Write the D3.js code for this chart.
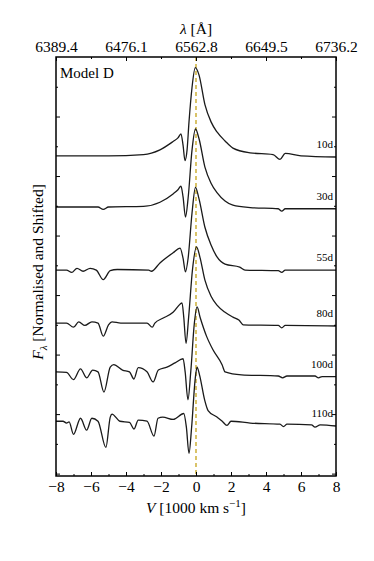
<!DOCTYPE html>
<html>
<head>
<meta charset="utf-8">
<script src="https://cdn.jsdelivr.net/npm/d3@7"></script>
<style>
  body { margin: 0; background: #fff; }
  svg text { font-family: "Liberation Serif", "DejaVu Serif", serif; fill: #000; }
</style>
</head>
<body>
<div id="chart"></div>
<script>
// epochs, their vertical shifts and spectra ([velocity in 1000 km/s, flux above shift])
const epochs = ['10d', '30d', '55d', '80d', '100d', '110d'];
const shifts = [5.34, 4.48, 3.42, 2.53, 1.71, 0.88];

const spec10 = [[-8, 0], [-5, 0], [-3, 0.02], [-2.06, 0.1], [-1.31, 0.24], [-1.03, 0.3], [-0.86, 0.37],
  [-0.74, 0.18], [-0.63, -0.08], [-0.51, 0.1], [-0.4, 0.57], [-0.23, 1.14], [-0.04, 1.48], [0.17, 1.36],
  [0.51, 0.86], [0.86, 0.57], [1.2, 0.4], [1.66, 0.25], [2.11, 0.13], [3.09, 0.05], [4.4, 0.02],
  [4.8, -0.06], [5.1, 0.04], [6, 0], [8, -0.02]];
const spec30 = [[-8, 0], [-5.6, 0], [-5.3, -0.04], [-5.0, 0], [-3, 0.01], [-2.06, 0.08], [-1.31, 0.22],
  [-1.03, 0.29], [-0.86, 0.35], [-0.74, 0.17], [-0.6, -0.17], [-0.45, 0.15], [-0.23, 0.95], [-0.03, 1.31],
  [0.17, 1.15], [0.51, 0.67], [0.86, 0.4], [1.2, 0.24], [1.66, 0.1], [2.11, 0.03], [3.1, -0.01],
  [4.7, -0.03], [4.9, -0.07], [5.1, -0.03], [8, -0.03]];
const spec55 = [[-8, 0], [-7.4, 0], [-7.1, -0.04], [-6.8, 0.03], [-6.45, -0.02], [-6.05, 0.03], [-5.7, 0],
  [-5.3, -0.16], [-4.9, -0.01], [-4.5, 0.01], [-2.7, 0], [-2.55, -0.02], [-2.06, 0.12], [-1.31, 0.29],
  [-0.91, 0.37], [-0.74, 0.2], [-0.6, -0.03], [-0.45, 0.2], [-0.23, 0.95], [-0.03, 1.39], [0.17, 1.2],
  [0.51, 0.72], [0.86, 0.42], [1.2, 0.22], [1.66, 0.1], [2.5, 0.05], [2.8, 0], [4.7, -0.01],
  [4.9, -0.04], [5.1, 0], [8, 0]];
const spec80 = [[-8, 0], [-7.4, 0], [-7.0, -0.07], [-6.7, 0.02], [-6.35, -0.04], [-5.95, 0.02], [-5.6, 0],
  [-5.3, -0.22], [-5.0, -0.03], [-4.8, 0.02], [-4.3, 0], [-2.8, 0], [-2.5, -0.07], [-2.35, 0],
  [-1.9, 0.08], [-1.31, 0.18], [-0.9, 0.32], [-0.8, 0.34], [-0.7, 0.1], [-0.57, -0.34], [-0.42, 0.1],
  [-0.2, 0.9], [0.03, 1.28], [0.23, 1.1], [0.51, 0.72], [0.86, 0.45], [1.2, 0.3], [1.66, 0.18],
  [2.11, 0.1], [2.45, 0.05], [2.7, -0.03], [4.7, -0.04], [4.9, -0.08], [5.1, -0.04], [8, -0.05]];
const spec100 = [[-8, 0], [-7.4, -0.01], [-7.0, -0.13], [-6.6, 0.05], [-6.25, -0.1], [-5.9, 0.03],
  [-5.6, 0], [-5.26, -0.34], [-4.9, 0.08], [-4.7, 0.12], [-4.2, 0.03], [-3.8, 0], [-3.55, -0.12],
  [-3.3, 0.07], [-2.8, 0], [-2.45, -0.17], [-2.15, 0.03], [-1.66, 0.08], [-1.2, 0.15], [-0.74, 0.22],
  [-0.62, 0], [-0.46, -0.47], [-0.3, 0], [-0.1, 0.8], [0.06, 1.09], [0.25, 0.9], [0.6, 0.6],
  [0.97, 0.37], [1.49, 0.12], [1.66, 0], [2.6, -0.05], [4.7, -0.07], [4.95, -0.1], [5.2, -0.07],
  [6.8, -0.07], [7.0, -0.1], [7.2, -0.08], [8, -0.08]];
const spec110 = [[-8, 0], [-7.6, 0], [-7.4, -0.03], [-7.25, -0.01], [-7.0, -0.22], [-6.6, 0.05],
  [-6.25, -0.15], [-5.95, 0.05], [-5.6, 0], [-5.15, -0.44], [-4.9, 0.07], [-4.8, 0.12], [-4.35, 0],
  [-3.8, -0.02], [-3.54, -0.13], [-3.3, 0.02], [-2.8, 0], [-2.4, -0.25], [-2.17, 0.05], [-1.9, 0.07],
  [-1.3, 0.03], [-0.7, 0.13], [-0.55, -0.1], [-0.4, -0.54], [-0.25, -0.1], [-0.05, 0.7], [0.06, 0.91],
  [0.2, 0.78], [0.5, 0.35], [0.69, 0.18], [1.2, 0.07], [1.5, 0], [1.77, -0.07], [2.0, 0], [3.1, -0.03],
  [4.8, -0.05], [5.0, -0.09], [5.2, -0.05], [6.6, -0.06], [6.8, -0.1], [7.1, -0.06], [8, -0.08]];
const spectra = [spec10, spec30, spec55, spec80, spec100, spec110];

// tick labels
const velTicks = [-8, -6, -4, -2, 0, 2, 4, 6, 8];
const lamTicks = [-8, -4, 0, 4, 8];
const lamLabels = ['6389.4', '6476.1', '6562.8', '6649.5', '6736.2'];

// layout
const width = 374, height = 561;
const margin = {t: 57, r: 38, b: 85, l: 56};
const w = width - margin.l - margin.r;
const h = height - margin.t - margin.b;

const svg = d3.select('#chart').append('svg')
  .attr('width', width)
  .attr('height', height);

const plot = svg.append('g')
  .attr('transform', `translate(${margin.l},${margin.t})`);

const x = d3.scaleLinear().domain([-8, 8]).range([0, w]);
const y = d3.scaleLinear().domain([-0.04, 7]).range([h, 0]);

// dashed rest-wavelength line
plot.append('line')
  .attr('x1', x(0)).attr('x2', x(0))
  .attr('y1', 0).attr('y2', h)
  .attr('stroke', '#c9aa2a')
  .attr('stroke-width', 1.4)
  .attr('stroke-dasharray', '4,3');

// spectra
const line = d3.line()
  .x(d => x(d[0]))
  .y(d => d[1])
  .curve(d3.curveMonotoneX);

spectra.forEach((s, i) => {
  plot.append('path')
    .datum(s.map(d => [d[0], y(shifts[i] + d[1])]))
    .attr('d', line)
    .attr('fill', 'none')
    .attr('stroke', '#1a1a1a')
    .attr('stroke-width', 1.3);

  plot.append('text')
    .attr('x', w - 3)
    .attr('y', y(shifts[i] + s[s.length - 1][1]) - 9)
    .attr('text-anchor', 'end')
    .style('font-size', '11px')
    .text(epochs[i]);
});

// axes (inward ticks)
const tickStyle = g => {
  g.select('.domain').remove();
  g.selectAll('line').attr('stroke', '#000').attr('stroke-width', 1);
  g.selectAll('text').style('font-size', '15.5px').style('font-family', '"Liberation Serif", serif');
};

plot.append('g')
  .attr('transform', `translate(0,${h})`)
  .call(d3.axisBottom(x).tickValues(velTicks).tickSizeInner(-4).tickSizeOuter(0).tickPadding(5)
    .tickFormat(d => d < 0 ? '\u2212' + Math.abs(d) : d))
  .call(tickStyle);
plot.append('g')
  .attr('transform', `translate(0,${h})`)
  .call(d3.axisBottom(x).tickValues(d3.range(-7, 8, 2)).tickSize(-2).tickFormat(''))
  .call(tickStyle);

plot.append('g')
  .call(d3.axisTop(x).tickValues(lamTicks).tickSizeInner(-4).tickSizeOuter(0).tickPadding(5)
    .tickFormat((d, i) => lamLabels[i]))
  .call(tickStyle);
plot.append('g')
  .call(d3.axisTop(x).tickValues([-6, -2, 2, 6]).tickSize(-2).tickFormat(''))
  .call(tickStyle);

[[d3.axisLeft, 0, -4, -2], [d3.axisRight, w, -4, -2]].forEach(([ax, tx, maj, min]) => {
  plot.append('g')
    .attr('transform', `translate(${tx},0)`)
    .call(ax(y).tickValues(d3.range(0, 7)).tickSize(maj).tickFormat(''))
    .call(tickStyle);
  plot.append('g')
    .attr('transform', `translate(${tx},0)`)
    .call(ax(y).tickValues(d3.range(0.5, 7, 1)).tickSize(min).tickFormat(''))
    .call(tickStyle);
});

// frame
plot.append('rect')
  .attr('width', w).attr('height', h)
  .attr('fill', 'none')
  .attr('stroke', '#000')
  .attr('stroke-width', 1.5);

// labels
plot.append('text')
  .attr('x', 4).attr('y', 21)
  .style('font-size', '15px')
  .text('Model D');

const xl = svg.append('text')
  .attr('x', margin.l + x(0)).attr('y', 513)
  .attr('text-anchor', 'middle')
  .style('font-size', '15.5px');
xl.append('tspan').style('font-style', 'italic').text('V');
xl.append('tspan').text(' [1000 km s');
xl.append('tspan').attr('dy', -6).style('font-size', '11px').text('\u22121');
xl.append('tspan').attr('dy', 6).text(']');

const tl = svg.append('text')
  .attr('x', margin.l + x(0)).attr('y', 34)
  .attr('text-anchor', 'middle')
  .style('font-size', '15.5px');
tl.append('tspan').style('font-style', 'italic').text('\u03bb');
tl.append('tspan').text(' [\u00c5]');

const yl = svg.append('text')
  .attr('transform', `translate(43,${margin.t + 215}) rotate(-90)`)
  .attr('text-anchor', 'middle')
  .style('font-size', '15.5px');
yl.append('tspan').style('font-style', 'italic').text('F');
yl.append('tspan').attr('dy', 4).style('font-size', '11px').style('font-style', 'italic').text('\u03bb');
yl.append('tspan').attr('dy', -4).text(' [Normalised and Shifted]');
</script>
</body>
</html>
